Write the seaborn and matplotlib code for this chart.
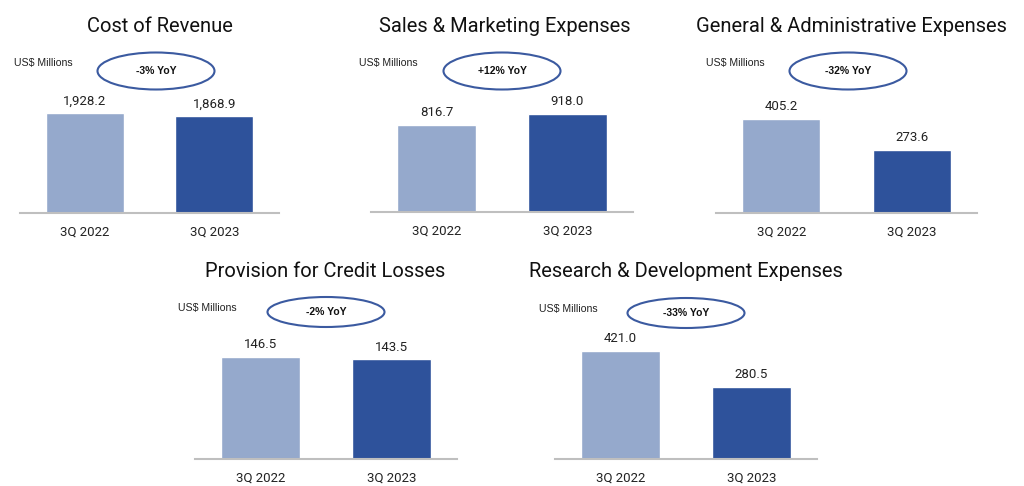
import matplotlib
matplotlib.use('Agg')
import matplotlib.pyplot as plt
from matplotlib.patches import Ellipse
import seaborn as sns

# --- データ ---
categories = ['3Q 2022', '3Q 2023']
titles = ['Cost of Revenue', 'Sales & Marketing Expenses', 'General & Administrative Expenses',
          'Provision for Credit Losses', 'Research & Development Expenses']
values_2022 = [1928.2, 816.7, 405.2, 146.5, 421.0]
values_2023 = [1868.9, 918.0, 273.6, 143.5, 280.5]
yoy_labels = ['-3% YoY', '+12% YoY', '-32% YoY', '-2% YoY', '-33% YoY']
value_labels_2022 = ['1,928.2', '816.7', '405.2', '146.5', '421.0']
value_labels_2023 = ['1,868.9', '918.0', '273.6', '143.5', '280.5']

# --- レイアウト (ピクセル) ---
W, H = 1024, 486
# axis left, axis right, baseline y, title x, title baseline y, usd x, usd y, ellipse x, ellipse y, ellipse h, max bar px
layout = [
    (20, 279, 213, 160, 32, 14, 63, 156, 71, 37, 100),
    (371, 633, 212, 505, 32, 359, 63, 502, 71, 37, 98),
    (716, 977, 213, 851, 32, 706, 63, 848, 71, 37, 94),
    (195, 457, 459, 325, 277, 178, 308, 326, 312, 30, 102),
    (555, 817, 459, 686, 277, 539, 309, 686, 313, 30, 108),
]
AX_H = 130
LIGHT = '#95A9CC'
DARK = '#2E529B'

sns.set_theme(style='white')
plt.rcParams['font.family'] = ['Roboto', 'DejaVu Sans']

fig = plt.figure(figsize=(W / 100, H / 100), dpi=100)
fig.patch.set_facecolor('white')

for i, (l, r, base, tx, ty, ux, uy, ex, ey, eh, bar_px) in enumerate(layout):
    ax = fig.add_axes([l / W, (H - base) / H, (r - l) / W, AX_H / H])
    vals = [values_2022[i], values_2023[i]]
    sns.barplot(x=categories, y=vals, hue=categories, palette=[LIGHT, DARK],
                legend=False, width=0.6, saturation=1, ax=ax)
    ax.set_xlim(-0.5, 1.5)
    ax.set_ylim(0, max(vals) * AX_H / bar_px)
    for c, lab in zip(ax.containers, [value_labels_2022[i], value_labels_2023[i]]):
        ax.bar_label(c, labels=[lab], padding=4, fontsize=9.5, color='#222222')
    for s in ['top', 'left', 'right']:
        ax.spines[s].set_visible(False)
    ax.spines['bottom'].set_color('#BFBFBF')
    ax.spines['bottom'].set_linewidth(1.5)
    ax.set_yticks([])
    ax.tick_params(axis='x', length=0, pad=9, labelsize=9.5, labelcolor='#222222')
    ax.set_xlabel('')
    ax.set_ylabel('')
    ax.set_facecolor('none')

    fig.text(tx / W, 1 - ty / H, titles[i], ha='center', va='baseline',
             fontsize=14.5, color='#111111')
    fig.text(ux / W, 1 - uy / H, 'US$ Millions', ha='left', va='center',
             fontsize=7.6, color='#222222', family=['Liberation Sans', 'DejaVu Sans'])
    fig.patches.append(Ellipse((ex / W, 1 - ey / H), 117 / W, eh / H,
                               transform=fig.transFigure, fill=False,
                               edgecolor='#3B5AA0', linewidth=1.5))
    fig.text(ex / W, 1 - ey / H, yoy_labels[i], ha='center', va='center',
             fontsize=7.5, fontweight='bold', color='#111111',
             family=['Liberation Sans', 'DejaVu Sans'])

plt.savefig('out.png', dpi=100, facecolor='white')
